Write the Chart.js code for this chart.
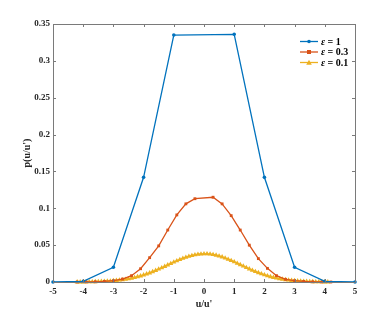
<!DOCTYPE html>
<html><head><meta charset="utf-8">
<script src="https://cdn.jsdelivr.net/npm/chart.js@4/dist/chart.umd.min.js"></script>
<style>html,body{margin:0;padding:0;background:#fff}#wrap{width:391px;height:321px;position:relative}</style>
</head><body><div id="wrap"><canvas id="c" width="391" height="321"></canvas></div>
<script>
const xTickLabels = ['-5','-4','-3','-2','-1','0','1','2','3','4','5'];
const yTickLabels = ['0','0.05','0.1','0.15','0.2','0.25','0.3','0.35'];
const seriesNames = ['1','0.3','0.1'];

const blueX = [-5,-4,-3,-2,-1,1,2,3,4,5];
const blueY = [0,0.0008,0.02,0.142,0.335,0.336,0.142,0.02,0.0008,0];

const redX = [-4.2,-3.9,-3.6,-3.3,-3.0,-2.7,-2.4,-2.1,-1.8,-1.5,-1.2,-0.9,-0.6,-0.3,
              0.3,0.6,0.9,1.2,1.5,1.8,2.1,2.4,2.7,3.0,3.3,3.6,3.9,4.2];
const redY = [0,0.0001,0.0003,0.0008,0.0018,0.004,0.0086,0.018,0.033,0.049,0.0705,0.091,0.106,0.113,
              0.115,0.106,0.090,0.0705,0.050,0.0317,0.0185,0.0086,0.0036,0.0018,0.0008,0.0003,0.0001,0];

const yellowX = [-4.2,-4.1,-4.0,-3.9,-3.8,-3.7,-3.6,-3.5,-3.4,-3.3,-3.2,-3.1,-3.0,-2.9,-2.8,-2.7,-2.6,-2.5,-2.4,-2.3,-2.2,-2.1,
                 -2.0,-1.9,-1.8,-1.7,-1.6,-1.5,-1.4,-1.3,-1.2,-1.1,-1.0,-0.9,-0.8,-0.7,-0.6,-0.5,-0.4,-0.3,-0.2,-0.1,
                 0,0.1,0.2,0.3,0.4,0.5,0.6,0.7,0.8,0.9,1.0,1.1,1.2,1.3,1.4,1.5,1.6,1.7,1.8,1.9,2.0,
                 2.1,2.2,2.3,2.4,2.5,2.6,2.7,2.8,2.9,3.0,3.1,3.2,3.3,3.4,3.5,3.6,3.7,3.8,3.9,4.0,4.1,4.2];
const yellowY = [0.0001,0.0001,0.0001,0.0002,0.0002,0.0003,0.0004,0.0005,0.0007,0.0009,0.0011,0.0013,0.0017,0.0021,0.0025,0.0030,0.0036,0.0043,0.0051,0.0060,0.0071,0.0082,
                 0.0095,0.0109,0.0123,0.0139,0.0156,0.0174,0.0192,0.0211,0.0231,0.0250,0.0269,0.0287,0.0304,0.0320,0.0335,0.0348,0.0359,0.0368,0.0375,0.0379,
                 0.0381,0.0381,0.0378,0.0372,0.0363,0.0352,0.0339,0.0324,0.0308,0.0291,0.0273,0.0254,0.0235,0.0215,0.0196,0.0177,0.0159,0.0142,0.0126,0.0111,0.0097,
                 0.0084,0.0072,0.0062,0.0052,0.0044,0.0037,0.0031,0.0026,0.0021,0.0017,0.0014,0.0011,0.0009,0.0007,0.0005,0.0004,0.0003,0.0002,0.0002,0.0001,0.0001];

const COLORS = ['#0072BD','#D95319','#EDB120'];
const FONT = "'Liberation Serif','Times New Roman',serif";
const AXIS = '#7a7a7a';
const TXT = '#262626';

function pts(xs, ys){ return xs.map((x,i)=>({x:x,y:ys[i]})); }

const boxTicks = {
  id:'boxTicks',
  afterDatasetsDraw(chart){
    const {ctx, chartArea:a, scales:{x,y}} = chart;
    ctx.save();
    ctx.strokeStyle = AXIS; ctx.lineWidth = 1;
    ctx.beginPath();
    ctx.rect(Math.round(a.left)+0.5, Math.round(a.top)+0.5, Math.round(a.right-a.left), Math.round(a.bottom-a.top));
    ctx.stroke();
    const L = 3;
    ctx.beginPath();
    x.ticks.forEach(t=>{
      const px = Math.round(x.getPixelForValue(t.value))+0.5;
      ctx.moveTo(px, a.bottom); ctx.lineTo(px, a.bottom-L);
      ctx.moveTo(px, a.top); ctx.lineTo(px, a.top+L);
    });
    y.ticks.forEach(t=>{
      const py = Math.round(y.getPixelForValue(t.value))+0.5;
      ctx.moveTo(a.left, py); ctx.lineTo(a.left+L, py);
      ctx.moveTo(a.right, py); ctx.lineTo(a.right-L, py);
    });
    ctx.stroke();
    ctx.restore();
  }
};

const legendPlug = {
  id:'legendPlug',
  afterDraw(chart){
    const ctx = chart.ctx;
    const x0 = 300, x1 = 318, tx = 321;
    const rows = [41.5, 52, 62.5];
    ctx.save();
    rows.forEach((ry,i)=>{
      const c = COLORS[i];
      ctx.strokeStyle = c; ctx.fillStyle = c; ctx.lineWidth = 1.3;
      ctx.beginPath(); ctx.moveTo(x0, ry); ctx.lineTo(x1, ry); ctx.stroke();
      const mx = (x0+x1)/2;
      ctx.beginPath();
      if(i===0){ ctx.arc(mx, ry, 1.8, 0, Math.PI*2); ctx.fill(); }
      else if(i===1){ ctx.fillRect(mx-2, ry-2, 4, 4); }
      else { ctx.moveTo(mx, ry-2.8); ctx.lineTo(mx+2.8, ry+2.2); ctx.lineTo(mx-2.8, ry+2.2); ctx.closePath(); ctx.fill(); }
      ctx.fillStyle = '#000';
      ctx.textBaseline = 'middle'; ctx.textAlign = 'left';
      ctx.font = "italic bold 10px " + FONT;
      ctx.fillText('\u03b5', tx, ry+0.5);
      const w = ctx.measureText('\u03b5').width;
      ctx.font = "bold 10px " + FONT;
      ctx.fillText(' = ' + seriesNames[i], tx + w, ry+0.5);
    });
    ctx.restore();
  }
};

new Chart(document.getElementById('c'), {
  type:'line',
  data:{
    datasets:[
      {label:'\u03b5 = '+seriesNames[0], data:pts(blueX,blueY), borderColor:COLORS[0], backgroundColor:COLORS[0],
       borderWidth:1.3, pointStyle:'circle', pointRadius:1.8, pointBorderWidth:0, tension:0, clip:false},
      {label:'\u03b5 = '+seriesNames[1], data:pts(redX,redY), borderColor:COLORS[1], backgroundColor:COLORS[1],
       borderWidth:1.3, pointStyle:'rect', pointRadius:2, pointBorderWidth:0, tension:0, clip:false},
      {label:'\u03b5 = '+seriesNames[2], data:pts(yellowX,yellowY), borderColor:COLORS[2], backgroundColor:COLORS[2],
       borderWidth:1.5, pointStyle:'triangle', pointRadius:2.9, pointBorderWidth:0, tension:0, clip:false}
    ]
  },
  options:{
    responsive:false, animation:false, devicePixelRatio:1,
    layout:{padding:{left:0, right:36, top:24, bottom:0}},
    plugins:{legend:{display:false}, tooltip:{enabled:false}},
    scales:{
      x:{type:'linear', min:-5, max:5, border:{display:false},
         grid:{display:false, drawTicks:false},
         ticks:{stepSize:1, padding:4, color:TXT, font:{family:FONT, size:9, weight:'bold'},
                maxRotation:0, autoSkip:false,
                callback:(v)=>xTickLabels[Math.round(v+5)]},
         title:{display:true, text:"u/u'", color:TXT, font:{family:FONT, size:10, weight:'bold'}, padding:{top:0,bottom:11}},
         afterFit:(s)=>{s.height = 39;}
      },
      y:{type:'linear', min:0, max:0.35, border:{display:false},
         grid:{display:false, drawTicks:false},
         ticks:{stepSize:0.05, padding:3, color:TXT, font:{family:FONT, size:9, weight:'bold'},
                autoSkip:false, callback:(v)=>yTickLabels[Math.round(v/0.05)]},
         title:{display:true, text:"p(u/u')", color:TXT, font:{family:FONT, size:10, weight:'bold'}, padding:{top:21,bottom:0}},
         afterFit:(s)=>{s.width = 53;}
      }
    }
  },
  plugins:[boxTicks, legendPlug]
});
</script></body></html>
